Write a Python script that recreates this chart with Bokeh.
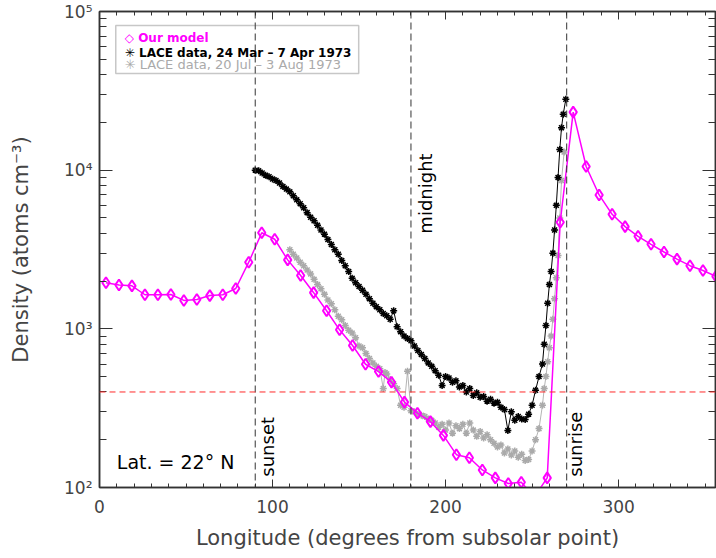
import math
from bokeh.plotting import figure
from bokeh.models import (Span, Label, BoxAnnotation, LinearAxis, LogAxis,
                          SingleIntervalTicker, LogTicker, CustomJSTickFormatter,
                          Range1d, ColumnDataSource)
from bokeh.embed import file_html
from bokeh.resources import INLINE

# ---------------- data ----------------
model_lon = [3.75, 11.25, 18.75, 26.25, 33.75, 41.25, 48.75, 56.25, 63.75, 71.25,
             78.75, 86.25, 93.75, 101.25, 108.75, 116.25, 123.75, 131.25, 138.75, 146.25,
             153.75, 161.25, 168.75, 176.25, 183.75, 191.25, 198.75, 206.25, 213.75, 221.25,
             228.75, 236.25, 243.75, 251.25, 258.75, 266.25, 273.75, 281.25, 288.75, 296.25,
             303.75, 311.25, 318.75, 326.25, 333.75, 341.25, 348.75, 356.25]
model_dens = [1950, 1890, 1866, 1640, 1640, 1645, 1510, 1530, 1620, 1640,
              1795, 2630, 4030, 3670, 2720, 2170, 1690, 1300, 986, 785,
              598, 538, 461, 345, 294, 260, 213, 161, 154, 129,
              115, 106, 108, 87, 115, 4700, 23200, 10540, 6980, 5270,
              4410, 3830, 3410, 3050, 2750, 2500, 2330, 2140]

mar_lon = [90, 92, 94, 96, 98, 100, 102, 104, 106, 108, 110, 112, 114, 116, 118, 120,
           122, 124, 126, 128, 130, 132, 134, 136, 138, 140, 142, 144, 146, 148, 150,
           152, 154, 156, 158, 160, 162, 164, 166, 168, 170, 172, 174, 176, 178, 180,
           182, 184, 186, 188, 190, 192, 194, 196, 198, 200, 202, 204, 206, 208, 210,
           212, 214, 216, 218, 220, 222, 224, 226, 228, 230, 232, 234, 236, 238, 240,
           242, 244, 246, 248, 250, 252, 254, 256, 257, 258, 259, 260, 261, 262, 263,
           264, 265, 266, 267, 268, 269.5]
mar_dens = [10000, 9900, 9600, 9300, 9100, 8800, 8600, 8300, 7900, 7600, 7300, 6900, 6500, 6150, 5800, 5400,
            5050, 4800, 4500, 4200, 3950, 3650, 3400, 3150, 2950, 2700, 2500, 2300, 2080, 1950, 1850,
            1750, 1650, 1550, 1450, 1380, 1320, 1250, 1210, 1150, 1300, 1030, 960, 900, 870, 840,
            780, 730, 690, 650, 610, 580, 545, 510, 440, 500, 490, 460, 470, 430, 440,
            400, 420, 380, 395, 370, 375, 350, 360, 340, 345, 320, 310, 229, 300, 265,
            280, 270, 268, 290, 330, 410, 500, 600, 800, 1050, 1450, 1900, 2300, 3000, 4200,
            6000, 9000, 13500, 18500, 22500, 28000]

jul_lon = [110, 112, 114, 116, 118, 120, 122, 124, 126, 128, 130, 132, 134, 136, 138, 140,
           142, 144, 146, 148, 150, 152, 154, 156, 158, 160, 162, 164, 165, 166, 168, 170,
           172, 174, 176, 178, 180, 182, 184, 186, 188, 190, 192, 194, 196, 198, 200, 202,
           204, 206, 208, 210, 212, 214, 216, 218, 220, 222, 224, 226, 228, 230, 232, 234,
           236, 238, 240, 242, 244, 246, 248, 250, 252, 254, 256, 257, 258, 259, 260, 261,
           262, 263, 264, 265, 266, 267, 268.5]
jul_dens = [3150, 2950, 2800, 2630, 2500, 2350, 2220, 2050, 1900, 1790, 1650, 1520, 1440, 1320, 1200, 1140,
            1050, 980, 940, 880, 780, 760, 700, 650, 610, 580, 560, 421, 530, 520, 480, 450,
            420, 330, 320, 540, 305, 300, 290, 285, 280, 270, 265, 255, 240, 250, 230, 255,
            220, 245, 235, 250, 220, 255, 230, 210, 225, 205, 215, 200, 190, 180, 185, 165,
            175, 160, 170, 155, 162, 148, 150, 170, 200, 235, 330, 420, 500, 620, 760, 900,
            1150, 1550, 2100, 2900, 5000, 8600, 13000]

event_lon = [90, 180, 270]
event_names = ["sunset", "midnight", "sunrise"]
threshold = 400

legend_texts = ["\u25c7 Our model",
                "\u2733 LACE data, 24 Mar \u2013 7 Apr 1973",
                "\u2733 LACE data, 20 Jul \u2013 3 Aug 1973"]

MAGENTA = "#ff00ff"
GRAY = "#aaaaaa"
FONT = "DejaVu Sans"
AX = "#333333"

# ---------------- figure ----------------
p = figure(frame_width=616, frame_height=476,
           x_range=Range1d(0, 356), y_range=Range1d(100, 1e5),
           y_axis_type="log", output_backend="svg", toolbar_location=None,
           min_border_left=99, min_border_top=11, min_border_right=1,
           min_border_bottom=60)
p.background_fill_color = "white"
p.border_fill_color = "white"
p.outline_line_color = AX
p.outline_line_width = 1.5
p.grid.visible = False

# bottom axis
xa = p.xaxis[0]
xa.ticker = SingleIntervalTicker(interval=100, num_minor_ticks=10)
xa.axis_label = "Longitude (degrees from subsolar point)"
xa.axis_label_text_font = FONT
xa.axis_label_text_font_size = "21px"
xa.axis_label_text_font_style = "normal"
xa.axis_label_standoff = 10
xa.major_label_text_font = FONT
xa.major_label_text_font_size = "17px"
xa.major_label_standoff = 12
xa.major_tick_in = 8
xa.major_tick_out = 0
xa.minor_tick_in = 4
xa.minor_tick_out = 0
xa.axis_line_width = 1.5
xa.axis_line_color = AX
xa.major_tick_line_color = AX
xa.minor_tick_line_color = AX

# left axis
ya = p.yaxis[0]
ya.ticker = LogTicker(num_minor_ticks=10)
ya.formatter = CustomJSTickFormatter(code="""
const sup = {"0":"\u2070","1":"\u00b9","2":"\u00b2","3":"\u00b3","4":"\u2074",
             "5":"\u2075","6":"\u2076","7":"\u2077","8":"\u2078","9":"\u2079","-":"\u207b"};
const e = Math.round(Math.log10(tick));
return "10" + String(e).split("").map(c => sup[c]).join("");
""")
ya.axis_label = "Density (atoms cm\u207b\u00b3)"
ya.axis_label_text_font = FONT
ya.axis_label_text_font_size = "21px"
ya.axis_label_text_font_style = "normal"
ya.axis_label_standoff = 28
ya.major_label_text_font = FONT
ya.major_label_text_font_size = "17px"
ya.major_label_standoff = 7
ya.major_tick_in = 13
ya.major_tick_out = 0
ya.minor_tick_in = 7
ya.minor_tick_out = 0
ya.axis_line_width = 1.5
ya.axis_line_color = AX
ya.major_tick_line_color = AX
ya.minor_tick_line_color = AX

# top and right axes (ticks only, labels invisible)
top = LinearAxis(ticker=SingleIntervalTicker(interval=100, num_minor_ticks=10),
                 major_label_text_font_size="1px", major_label_text_color=None,
                 major_label_standoff=0,
                 major_tick_in=8, major_tick_out=0, minor_tick_in=4, minor_tick_out=0,
                 axis_line_width=1.5, axis_line_color=AX,
                 major_tick_line_color=AX, minor_tick_line_color=AX)
p.add_layout(top, "above")
right = LogAxis(ticker=LogTicker(num_minor_ticks=10),
                major_label_text_font_size="1px", major_label_text_color=None,
                major_label_standoff=0,
                major_tick_in=13, major_tick_out=0, minor_tick_in=7, minor_tick_out=0,
                axis_line_width=1.5, axis_line_color=AX,
                major_tick_line_color=AX, minor_tick_line_color=AX)
p.add_layout(right, "right")

# reference lines
for lon in event_lon:
    p.add_layout(Span(location=lon, dimension="height", line_color="#333333",
                      line_dash="7 4", line_width=1))
p.add_layout(Span(location=threshold, dimension="width", line_color="#ff2a2a",
                  line_dash="6 4", line_width=1))

# data
jul = ColumnDataSource(dict(x=jul_lon, y=jul_dens))
mar = ColumnDataSource(dict(x=mar_lon, y=mar_dens))
mod = ColumnDataSource(dict(x=model_lon, y=model_dens))

p.line("x", "y", source=jul, line_color="#b4b4b4", line_width=1)
p.scatter("x", "y", source=jul, marker="asterisk", size=7, line_color=GRAY, line_width=1.5)
p.line("x", "y", source=mar, line_color="black", line_width=1)
p.scatter("x", "y", source=mar, marker="asterisk", size=7, line_color="black", line_width=1.5)
p.line("x", "y", source=mod, line_color=MAGENTA, line_width=1.5)
p.scatter("x", "y", source=mod, marker="diamond", size=11, fill_color=None,
          line_color=MAGENTA, line_width=2)

# event labels (rotated)
event_label_pos = [(97.2, 117), (188.2, 3980), (275.2, 117)]
for (lx, ly), name in zip(event_label_pos, event_names):
    p.add_layout(Label(x=lx, y=ly, text=name, angle=math.pi / 2,
                       text_align="left", text_baseline="middle",
                       text_font=FONT, text_font_size="18px", text_color="black"))

p.add_layout(Label(x=10, y=144, text="Lat. = 22\u00b0 N", text_align="left",
                   text_baseline="middle", text_font=FONT, text_font_size="19px",
                   text_color="black"))

# legend box
p.add_layout(BoxAnnotation(left=9.4, right=149.8, bottom=40640, top=81470,
                           fill_color=None, line_color="#444444", line_width=1.5))
legend_y = [68550, 55080, 46240]
legend_colors = [MAGENTA, "black", GRAY]
legend_styles = ["bold", "bold", "normal"]
legend_sizes = ["12px", "12px", "13px"]
for t, yy, c, s, fs in zip(legend_texts, legend_y, legend_colors, legend_styles, legend_sizes):
    p.add_layout(Label(x=14.6, y=yy, text=t, text_align="left", text_baseline="middle",
                       text_font=FONT, text_font_size=fs, text_font_style=s, text_color=c))

open("out.html", "w").write(file_html(p, INLINE))
